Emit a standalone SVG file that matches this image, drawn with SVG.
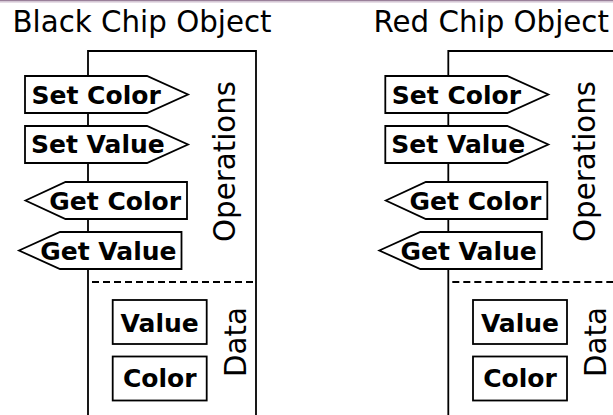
<svg xmlns="http://www.w3.org/2000/svg" width="613" height="415" viewBox="0 0 613 415">
<style>
.title{font-family:"DejaVu Sans",sans-serif;font-size:29.3px;fill:#000}
.lbl{font-family:"DejaVu Sans",sans-serif;font-size:25px;font-weight:bold;fill:#000}
.sec{font-family:"DejaVu Sans",sans-serif;font-size:29.3px;fill:#000}
.box{fill:#fff;stroke:#000;stroke-width:1.8}
.line{fill:none;stroke:#000;stroke-width:1.8}
.dash{fill:none;stroke:#000;stroke-width:1.8;stroke-dasharray:7 4}
</style>
<defs>
<g id="obj">
  <g id="frame-lines">
    <path class="line" d="M88,415 V51 H256 V415"/>
    <path class="dash" d="M92,282 H254"/>
  </g>
  <g class="node">
    <path class="box" d="M25,76 H147 L188,94.5 L147,113 H25 Z"/>
    <text class="lbl" x="31.5" y="103.5">Set Color</text>
  </g>
  <g class="node">
    <path class="box" d="M25,126 H147 L188,144.5 L147,163 H25 Z"/>
    <text class="lbl" x="31" y="153.3">Set Value</text>
  </g>
  <g class="node">
    <path class="box" d="M25.5,200.5 L65.5,182 H187 V219 H65.5 Z"/>
    <text class="lbl" x="181" y="209.5" text-anchor="end">Get Color</text>
  </g>
  <g class="node">
    <path class="box" d="M19,250.5 L60,232 H181.5 V269 H60 Z"/>
    <text class="lbl" x="176.5" y="259.5" text-anchor="end">Get Value</text>
  </g>
  <g class="node">
    <rect class="box" x="112.7" y="300" width="94" height="44"/>
    <text class="lbl" x="159.7" y="331.5" text-anchor="middle">Value</text>
  </g>
  <g class="node">
    <rect class="box" x="112.7" y="356.5" width="94" height="44"/>
    <text class="lbl" x="159.7" y="387.3" text-anchor="middle">Color</text>
  </g>
  <text class="sec" transform="translate(235,161.5) rotate(-90)" text-anchor="middle">Operations</text>
  <text class="sec" transform="translate(246,342) rotate(-90)" text-anchor="middle">Data</text>
</g>
</defs>
<rect x="0" y="0" width="613" height="1.5" fill="#9a809a"/>
<rect x="0" y="1.5" width="613" height="1.2" fill="#dccfdc"/>
<g id="black-chip-object">
  <text class="title" x="12.5" y="32">Black Chip Object</text>
  <use href="#obj"/>
</g>
<g id="red-chip-object">
  <text class="title" x="373.5" y="32">Red Chip Object</text>
  <use href="#obj" transform="translate(360.3,0)"/>
</g>
</svg>
